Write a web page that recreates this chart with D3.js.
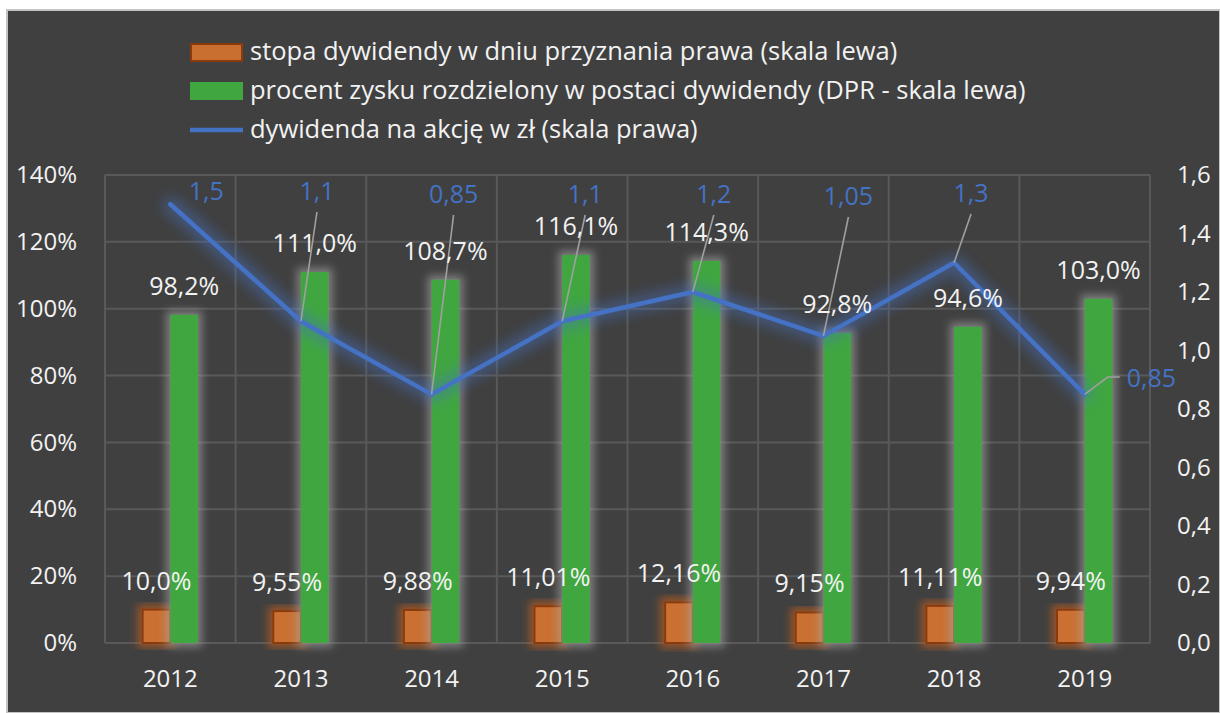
<!DOCTYPE html>
<html>
<head>
<meta charset="utf-8">
<script src="https://cdn.jsdelivr.net/npm/d3@7"></script>
<style>
  body { margin: 0; background: #fff; }
  svg { display: block; }
  .axis text { fill: #f2f2f2; font-family: "Open Sans", sans-serif; font-size: 24px; }
  .axis .domain { display: none; }
</style>
</head>
<body>
<div id="chart"></div>
<script>
// lata i dane
const years = ["2012", "2013", "2014", "2015", "2016", "2017", "2018", "2019"];
const stopa = [10.0, 9.55, 9.88, 11.01, 12.16, 9.15, 11.11, 9.94];      // % (skala lewa)
const stopaLabels = ["10,0%", "9,55%", "9,88%", "11,01%", "12,16%", "9,15%", "11,11%", "9,94%"];
const dpr = [98.2, 111.0, 108.7, 116.1, 114.3, 92.8, 94.6, 103.0];       // % (skala lewa)
const dps = [1.5, 1.1, 0.85, 1.1, 1.2, 1.05, 1.3, 0.85];                 // zl (skala prawa)
const leftTicks = [0, 20, 40, 60, 80, 100, 120, 140];
const rightTicks = [0, 0.2, 0.4, 0.6, 0.8, 1.0, 1.2, 1.4, 1.6];
const legendNames = [
  "stopa dywidendy w dniu przyznania prawa (skala lewa)",
  "procent zysku rozdzielony w postaci dywidendy (DPR - skala lewa)",
  "dywidenda na akcję w zł (skala prawa)"
];

// polozenie etykiet linii (przesuniete recznie jak w excelu)
const dpsLabelDx = [36, 16, 22, 23, 21, 25, 17, 42];
const dpsLabelY = [200, 200, 203, 203, 203, 205, 202, 387];

const width = 1220, height = 713;
const plot = {left: 105, right: 1150, top: 175, bottom: 643};

const svg = d3.select("#chart").append("svg")
  .attr("width", width).attr("height", height);

const defs = svg.append("defs");

const fBlue = defs.append("filter").attr("id", "glowBlue")
  .attr("x", "-20%").attr("y", "-40%").attr("width", "140%").attr("height", "180%");
fBlue.append("feMorphology").attr("in", "SourceGraphic").attr("operator", "dilate").attr("radius", 4).attr("result", "d");
fBlue.append("feGaussianBlur").attr("in", "d").attr("stdDeviation", 7).attr("result", "b");
fBlue.append("feComponentTransfer").attr("in", "b").attr("result", "b2")
  .append("feFuncA").attr("type", "linear").attr("slope", 0.5);
const mB = fBlue.append("feMerge");
mB.append("feMergeNode").attr("in", "b2");
mB.append("feMergeNode").attr("in", "SourceGraphic");

function glow(id, color, op, dev) {
  const f = defs.append("filter").attr("id", id)
    .attr("x", "-60%").attr("y", "-20%").attr("width", "220%").attr("height", "140%");
  f.append("feMorphology").attr("in", "SourceAlpha").attr("operator", "dilate").attr("radius", 4).attr("result", "d");
  f.append("feFlood").attr("flood-color", color).attr("flood-opacity", op);
  f.append("feComposite").attr("in2", "d").attr("operator", "in");
  f.append("feGaussianBlur").attr("stdDeviation", dev).attr("result", "g");
  const m = f.append("feMerge");
  m.append("feMergeNode").attr("in", "g");
  m.append("feMergeNode").attr("in", "SourceGraphic");
}
glow("glowGreen", "#a8a8a8", 0.6, 4);
glow("glowOrange", "#c8601c", 0.65, 4);

// tlo
svg.append("rect").attr("x", 7).attr("y", 10).attr("width", width - 7).attr("height", height - 10)
  .attr("fill", "#404040").attr("stroke", "#c4c4c4").attr("stroke-width", 2);

const x = d3.scaleBand().domain(years).range([plot.left, plot.right]);
const yL = d3.scaleLinear().domain([0, 140]).range([plot.bottom, plot.top]);
const yR = d3.scaleLinear().domain([0, 1.6]).range([plot.bottom, plot.top]);

// siatka
const grid = svg.append("g").attr("stroke", "#595959").attr("stroke-width", 2);
grid.selectAll(".h").data(leftTicks).join("line")
  .attr("x1", plot.left).attr("x2", plot.right)
  .attr("y1", d => yL(d)).attr("y2", d => yL(d));
grid.selectAll(".v").data(years.map(d => x(d)).concat([plot.right])).join("line")
  .attr("x1", d => d).attr("x2", d => d)
  .attr("y1", plot.top).attr("y2", plot.bottom);

// osie
svg.append("g").attr("class", "axis")
  .attr("transform", `translate(${plot.left},0)`)
  .call(d3.axisLeft(yL).tickValues(leftTicks).tickFormat(d => d + "%").tickSize(0).tickPadding(28));

svg.append("g").attr("class", "axis")
  .attr("transform", `translate(${plot.right},0)`)
  .call(d3.axisRight(yR).tickValues(rightTicks).tickFormat(d => d3.format(".1f")(d).replace(".", ",")).tickSize(0).tickPadding(27));

svg.append("g").attr("class", "axis")
  .attr("transform", `translate(0,${plot.bottom})`)
  .call(d3.axisBottom(x).tickSize(0).tickPadding(27));

// slupki
const barW = x.bandwidth() * 0.212;
const cx = d => x(d) + x.bandwidth() / 2;

svg.append("g").selectAll("rect").data(years).join("rect")
  .attr("x", d => cx(d) - barW)
  .attr("y", (d, i) => yL(stopa[i]))
  .attr("width", barW)
  .attr("height", (d, i) => yL(0) - yL(stopa[i]))
  .attr("fill", "#c96f30").attr("stroke", "#8a3b0e").attr("stroke-width", 2)
  .attr("filter", "url(#glowOrange)");

svg.append("g").selectAll("rect").data(years).join("rect")
  .attr("x", d => cx(d))
  .attr("y", (d, i) => yL(dpr[i]))
  .attr("width", barW)
  .attr("height", (d, i) => yL(0) - yL(dpr[i]))
  .attr("fill", "#40a640")
  .attr("filter", "url(#glowGreen)");

// linia
const line = d3.line().x((d, i) => cx(years[i])).y(d => yR(d));
svg.append("path").datum(dps)
  .attr("d", line)
  .attr("fill", "none").attr("stroke", "#4472c4").attr("stroke-width", 4.5)
  .attr("stroke-linejoin", "round").attr("stroke-linecap", "round")
  .attr("filter", "url(#glowBlue)");

// linie odniesienia etykiet
const leaders = svg.append("g").attr("stroke", "#a0a0a0").attr("stroke-width", 1.6).attr("fill", "none");
dps.forEach((v, i) => {
  if (i === 0) return;
  const px = cx(years[i]), py = yR(v);
  if (i === dps.length - 1) {
    leaders.append("polyline").attr("points", `${px},${py} ${px + 23},${dpsLabelY[i] - 10} ${px + 35},${dpsLabelY[i] - 10}`);
  } else {
    leaders.append("line").attr("x1", px).attr("y1", py)
      .attr("x2", px + dpsLabelDx[i]).attr("y2", dpsLabelY[i] + 12);
  }
});

// etykiety danych
const lbl = svg.append("g").attr("font-family", "Open Sans, sans-serif").attr("font-size", 25);

lbl.selectAll(".st").data(years).join("text")
  .attr("x", d => cx(d) - barW / 2)
  .attr("y", (d, i) => yL(stopa[i]) - 20)
  .attr("text-anchor", "middle").attr("fill", "#f2f2f2")
  .text((d, i) => stopaLabels[i]);

lbl.selectAll(".dp").data(years).join("text")
  .attr("x", d => cx(d) + barW / 2)
  .attr("y", (d, i) => yL(dpr[i]) - 20)
  .attr("text-anchor", "middle").attr("fill", "#f2f2f2")
  .text((d, i) => d3.format(".1f")(dpr[i]).replace(".", ",") + "%");

lbl.selectAll(".ds").data(dps).join("text")
  .attr("x", (d, i) => cx(years[i]) + dpsLabelDx[i])
  .attr("y", (d, i) => dpsLabelY[i])
  .attr("text-anchor", (d, i) => i === dps.length - 1 ? "start" : "middle")
  .attr("fill", "#4472c4")
  .text(d => String(d).replace(".", ","));

// legenda
const legend = svg.append("g").attr("transform", "translate(190,0)");
const rowY = [52, 91, 130];
legend.append("rect").attr("x", 1).attr("y", rowY[0] - 8).attr("width", 51).attr("height", 17)
  .attr("fill", "#c96f30").attr("stroke", "#8a3b0e").attr("stroke-width", 2);
legend.append("rect").attr("x", 0).attr("y", rowY[1] - 9).attr("width", 53).attr("height", 18)
  .attr("fill", "#40a640");
legend.append("line").attr("x1", 0).attr("x2", 53).attr("y1", rowY[2]).attr("y2", rowY[2])
  .attr("stroke", "#4472c4").attr("stroke-width", 4.5);
legend.selectAll("text").data(legendNames).join("text")
  .attr("x", 60).attr("y", (d, i) => rowY[i])
  .attr("dy", "0.33em")
  .attr("fill", "#f2f2f2")
  .attr("font-family", "Open Sans, sans-serif").attr("font-size", 25.5)
  .text(d => d);
</script>
</body>
</html>
